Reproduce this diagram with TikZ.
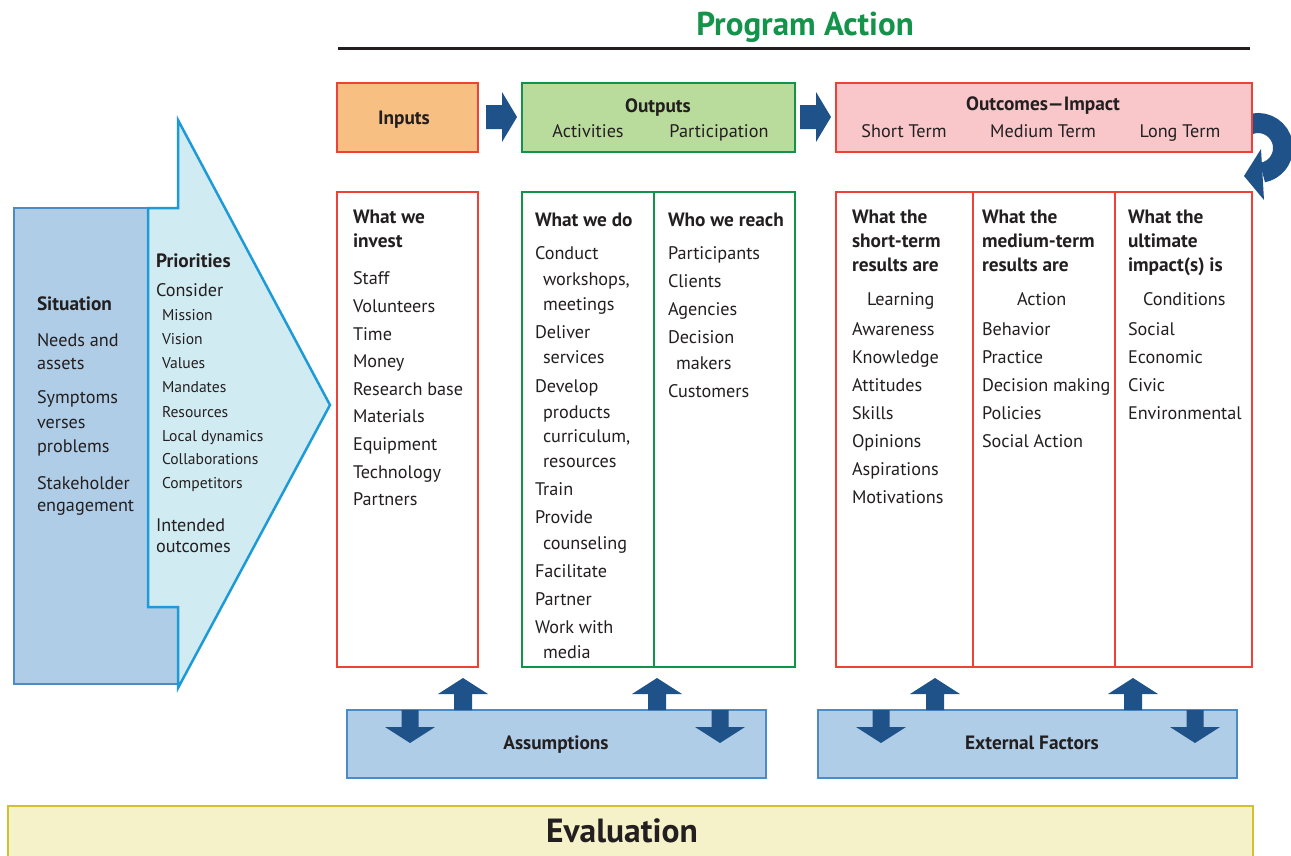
\documentclass[tikz,border=0pt]{standalone}
\usepackage{fontspec}
\setmainfont{PT Sans}
\definecolor{arrowblue}{HTML}{1F5289}
\definecolor{redb}{HTML}{EE4137}
\definecolor{greenb}{HTML}{12934A}
\definecolor{inputsfill}{HTML}{F7BF82}
\definecolor{outputsfill}{HTML}{B9DB9B}
\definecolor{outcomesfill}{HTML}{F9C6CA}
\definecolor{sitfill}{HTML}{AFCDE7}
\definecolor{sitborder}{HTML}{4B8BC8}
\definecolor{prifill}{HTML}{D1EBF2}
\definecolor{priborder}{HTML}{1E9BD7}
\definecolor{evalfill}{HTML}{F5F1C8}
\definecolor{evalborder}{HTML}{CFC22E}
\definecolor{titlegreen}{HTML}{14934A}
\definecolor{textcol}{HTML}{231F20}
\newcommand\bodyfont{\fontsize{18.2}{21}\selectfont}
\newcommand\boldfont{\fontsize{19.3}{22}\selectfont\bfseries}
\newcommand\smallfont{\fontsize{15.6}{18}\selectfont}
\newcommand\uparr[2]{\fill[arrowblue] (#1-9,#2) -- (#1-9,#2-16) -- (#1-25,#2-16) -- (#1,#2-32) -- (#1+25,#2-16) -- (#1+9,#2-16) -- (#1+9,#2) -- cycle;}
\newcommand\downarr[2]{\fill[arrowblue] (#1-8.5,#2) -- (#1-8.5,#2+17) -- (#1-25,#2+17) -- (#1,#2+33) -- (#1+25,#2+17) -- (#1+8.5,#2+17) -- (#1+8.5,#2) -- cycle;}
\newcommand\rightarr[2]{\fill[arrowblue] (#1,#2-12) -- (#1+16,#2-12) -- (#1+16,#2-25) -- (#1+31,#2) -- (#1+16,#2+25) -- (#1+16,#2+12) -- (#1,#2+12) -- cycle;}
\begin{document}
\begin{tikzpicture}[x=1pt,y=-1pt,
  txt/.style={anchor=base west, inner sep=0pt, outer sep=0pt, text=textcol, font=\bodyfont},
  btxt/.style={txt, font=\boldfont},
  stxt/.style={txt, font=\smallfont},
  ctxt/.style={anchor=base, inner sep=0pt, outer sep=0pt, text=textcol, font=\bodyfont},
  bctxt/.style={ctxt, font=\boldfont},
  panel/.style={anchor=north west, inner sep=0pt, outer sep=0pt, line width=2.2pt},
  redpanel/.style={panel, draw=redb},
  greenpanel/.style={panel, draw=greenb},
  bluepanel/.style={panel, draw=sitborder, fill=sitfill, line width=2.5pt}]
\useasboundingbox (0,0) rectangle (1291,855);
\fill[white] (0,0) rectangle (1291,855);

% title
\node[anchor=base, inner sep=0pt, text=titlegreen, font=\fontsize{33}{35}\selectfont\bfseries] (title) at (805,35) {Program Action};
\draw[line width=3pt, textcol] (338,48) -- (1250,48);

% situation and priorities
\filldraw[fill=sitfill, draw=sitborder, line width=2.5pt] (14,208) rectangle (178,684);
\filldraw[fill=prifill, draw=priborder, line width=2.5pt, line join=miter]
  (148,208) -- (178,208) -- (178,120) -- (330,405) -- (178,688) -- (178,607) -- (148,607) -- cycle;
\node[btxt] (sit-h) at (37,310) {Situation};
\foreach \y/\t [count=\i] in {346/Needs and,369/assets,403/Symptoms,428/verses,452/problems,489/Stakeholder,511/engagement}
  \node[txt] (sit-\i) at (37,\y) {\t};
\node[btxt] (pri-h) at (156,267) {Priorities};
\node[txt] (pri-c) at (156,296) {Consider};
\foreach \y/\t [count=\i] in {320/Mission,344/Vision,368/Values,392/Mandates,417/Resources,441/Local dynamics,464/Collaborations,488/Competitors}
  \node[stxt] (pri-\i) at (162,\y) {\t};
\node[txt] (pri-i1) at (156,531) {Intended};
\node[txt] (pri-i2) at (156,552) {outcomes};

% circular arrow (behind outcomes box)
\draw[arrowblue, line width=20pt] (1258,148) ++(-112:25) arc[start angle=-112, end angle=80, radius=25];
\fill[arrowblue] (1261,149) -- (1244,176) -- (1264,200) -- cycle;

% top boxes
\node[redpanel, fill=inputsfill, minimum width=141pt, minimum height=69pt] (inputs) at (337,83) {};
\node[greenpanel, fill=outputsfill, minimum width=273pt, minimum height=69pt] (outputs) at (522,83) {};
\node[redpanel, fill=outcomesfill, minimum width=416pt, minimum height=69pt] (outcomes) at (836,83) {};
\node[bctxt] (inputs-t) at (404,124) {Inputs};
\node[bctxt] (outputs-t) at (658,112) {Outputs};
\node[ctxt] (act) at (588,137) {Activities};
\node[ctxt] (part) at (719,137) {Participation};
\node[bctxt] (outcomes-t) at (1043,110) {Outcomes—Impact};
\node[ctxt] (st) at (904,137) {Short Term};
\node[ctxt] (mt) at (1043,137) {Medium Term};
\node[ctxt] (lt) at (1180,137) {Long Term};
\rightarr{486}{117}
\rightarr{800}{117}

% columns
\node[redpanel, minimum width=141pt, minimum height=475pt] (inv) at (337,192) {};
\node[greenpanel, minimum width=132pt, minimum height=475pt] (do) at (522,192) {};
\node[greenpanel, minimum width=141pt, minimum height=475pt] (reach) at (654,192) {};
\node[redpanel, minimum width=137pt, minimum height=475pt] (short) at (836,192) {};
\node[redpanel, minimum width=142pt, minimum height=475pt] (medium) at (973,192) {};
\node[redpanel, minimum width=137pt, minimum height=475pt] (long) at (1115,192) {};

\node[btxt] (inv-h1) at (353,223) {What we};
\node[btxt] (inv-h2) at (353,247) {invest};
\foreach \y/\t [count=\i] in {284/Staff,312/Volunteers,340/Time,367/Money,395/Research base,422/Materials,450/Equipment,478/Technology,505/Partners}
  \node[txt] (inv-\i) at (353,\y) {\t};

\node[btxt] (do-h) at (535,226) {What we do};
\foreach \x/\y/\t [count=\i] in {535/259/Conduct,543/285/{workshops,},543/310/meetings,535/338/Deliver,543/363/services,535/392/Develop,543/418/products,543/442/{curriculum,},543/467/resources,535/495/Train,535/523/Provide,543/549/counseling,535/577/Facilitate,535/605/Partner,535/633/Work with,543/658/media}
  \node[txt] (do-\i) at (\x,\y) {\t};

\node[btxt] (reach-h) at (668,226) {Who we reach};
\foreach \x/\y/\t [count=\i] in {668/259/Participants,668/287/Clients,668/315/Agencies,668/343/Decision,676/369/makers,668/397/Customers}
  \node[txt] (reach-\i) at (\x,\y) {\t};

\foreach \y/\t [count=\i] in {223/What the,247/short-term,271/results are}
  \node[btxt] (short-h\i) at (852,\y) {\t};
\foreach \x/\y/\t [count=\i] in {867/305/Learning,852/335/Awareness,852/363/Knowledge,852/391/Attitudes,852/419/Skills,852/447/Opinions,852/475/Aspirations,852/503/Motivations}
  \node[txt] (short-\i) at (\x,\y) {\t};

\foreach \y/\t [count=\i] in {223/What the,247/medium-term,271/results are}
  \node[btxt] (medium-h\i) at (982,\y) {\t};
\foreach \x/\y/\t [count=\i] in {1017/305/Action,982/335/Behavior,982/363/Practice,982/391/Decision making,982/419/Policies,982/447/Social Action}
  \node[txt] (medium-\i) at (\x,\y) {\t};

\foreach \y/\t [count=\i] in {223/What the,247/ultimate,271/impact(s) is}
  \node[btxt] (long-h\i) at (1128,\y) {\t};
\foreach \x/\y/\t [count=\i] in {1143/305/Conditions,1128/335/Social,1128/363/Economic,1128/391/Civic,1128/419/Environmental}
  \node[txt] (long-\i) at (\x,\y) {\t};

% assumptions and external factors
\node[bluepanel, minimum width=419pt, minimum height=68pt] (assump) at (347,710) {};
\node[bluepanel, minimum width=419pt, minimum height=68pt] (ext) at (818,710) {};
\node[bctxt] (assump-t) at (556,749) {Assumptions};
\node[bctxt] (ext-t) at (1032,749) {External Factors};
\uparr{463}{710}
\uparr{657}{710}
\uparr{935}{710}
\uparr{1133}{710}
\downarr{410}{710}
\downarr{720}{710}
\downarr{881}{710}
\downarr{1195}{710}

% evaluation
\node[panel, draw=evalborder, fill=evalfill, line width=2.5pt, minimum width=1245pt, minimum height=54pt] (eval) at (8,806) {};
\node[anchor=base, inner sep=0pt, text=textcol, font=\fontsize{33.5}{36}\selectfont\bfseries] (eval-t) at (622,842) {Evaluation};
\end{tikzpicture}
\end{document}
